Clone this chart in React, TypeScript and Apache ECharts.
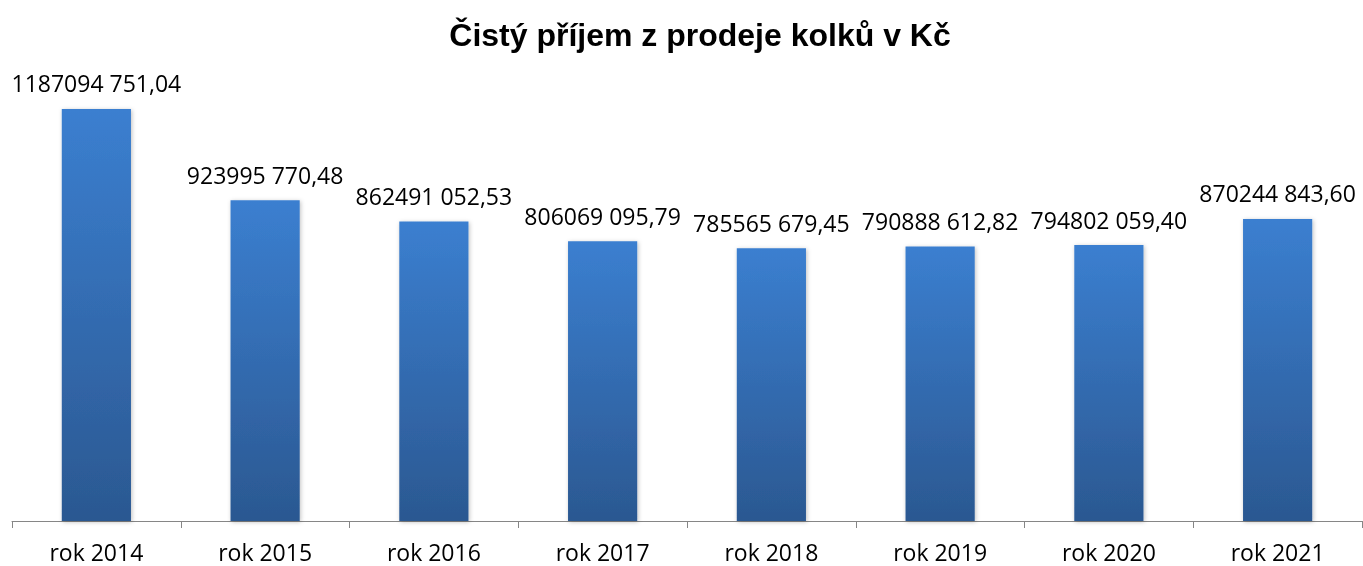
import React, { useEffect, useRef } from "react";
import * as echarts from "echarts";

const titleText = "Čistý příjem z prodeje kolků v Kč";
const categories = ["rok 2014", "rok 2015", "rok 2016", "rok 2017", "rok 2018", "rok 2019", "rok 2020", "rok 2021"];
const values = [1187094751.04, 923995770.48, 862491052.53, 806069095.79, 785565679.45, 790888612.82, 794802059.4, 870244843.6];

function fmt(v: number): string {
  const s = v.toFixed(2);
  const [intPart, dec] = s.split(".");
  const head = intPart.slice(0, intPart.length - 3);
  const tail = intPart.slice(intPart.length - 3);
  return `${head} ${tail},${dec}`;
}

export default function App() {
  const ref = useRef<HTMLDivElement>(null);
  useEffect(() => {
    if (!ref.current) return;
    const chart = echarts.init(ref.current, null, { renderer: "svg" });
    chart.setOption({
      animation: false,
      title: {
        text: titleText,
        left: 695,
        textAlign: "center",
        top: 14,
        textStyle: { fontFamily: "Liberation Sans, Arial", fontWeight: "bold", fontSize: 32, color: "#000" },
      },
      grid: { left: 12, right: 1, top: 35, bottom: 45, containLabel: false },
      xAxis: {
        type: "category",
        data: categories,
        axisLine: { lineStyle: { color: "#868686", width: 1 } },
        axisTick: { show: true, length: 7, lineStyle: { color: "#868686" } },
        axisLabel: { color: "#000", fontSize: 23, fontFamily: "Open Sans", margin: 19 },
      },
      yAxis: { type: "value", min: 0, max: 1400000000, show: false, splitLine: { show: false } },
      series: [
        {
          type: "bar",
          data: values,
          barWidth: "41%",
          itemStyle: {
            color: new echarts.graphic.LinearGradient(0, 0, 0, 1, [
              { offset: 0, color: "#3b7fd0" },
              { offset: 1, color: "#2b5891" },
            ]),
            shadowColor: "rgba(0,0,0,0.25)",
            shadowBlur: 4,
            shadowOffsetX: 1,
            shadowOffsetY: 1,
          },
          label: {
            show: true,
            position: "top",
            distance: 14,
            color: "#000",
            fontSize: 23,
            fontFamily: "Open Sans",
            formatter: (p: any) => fmt(p.value),
          },
        },
      ],
    });
    return () => chart.dispose();
  }, []);
  return <div ref={ref} style={{ position: "fixed", left: 0, top: 0, width: 1363, height: 566 }} />;
}
